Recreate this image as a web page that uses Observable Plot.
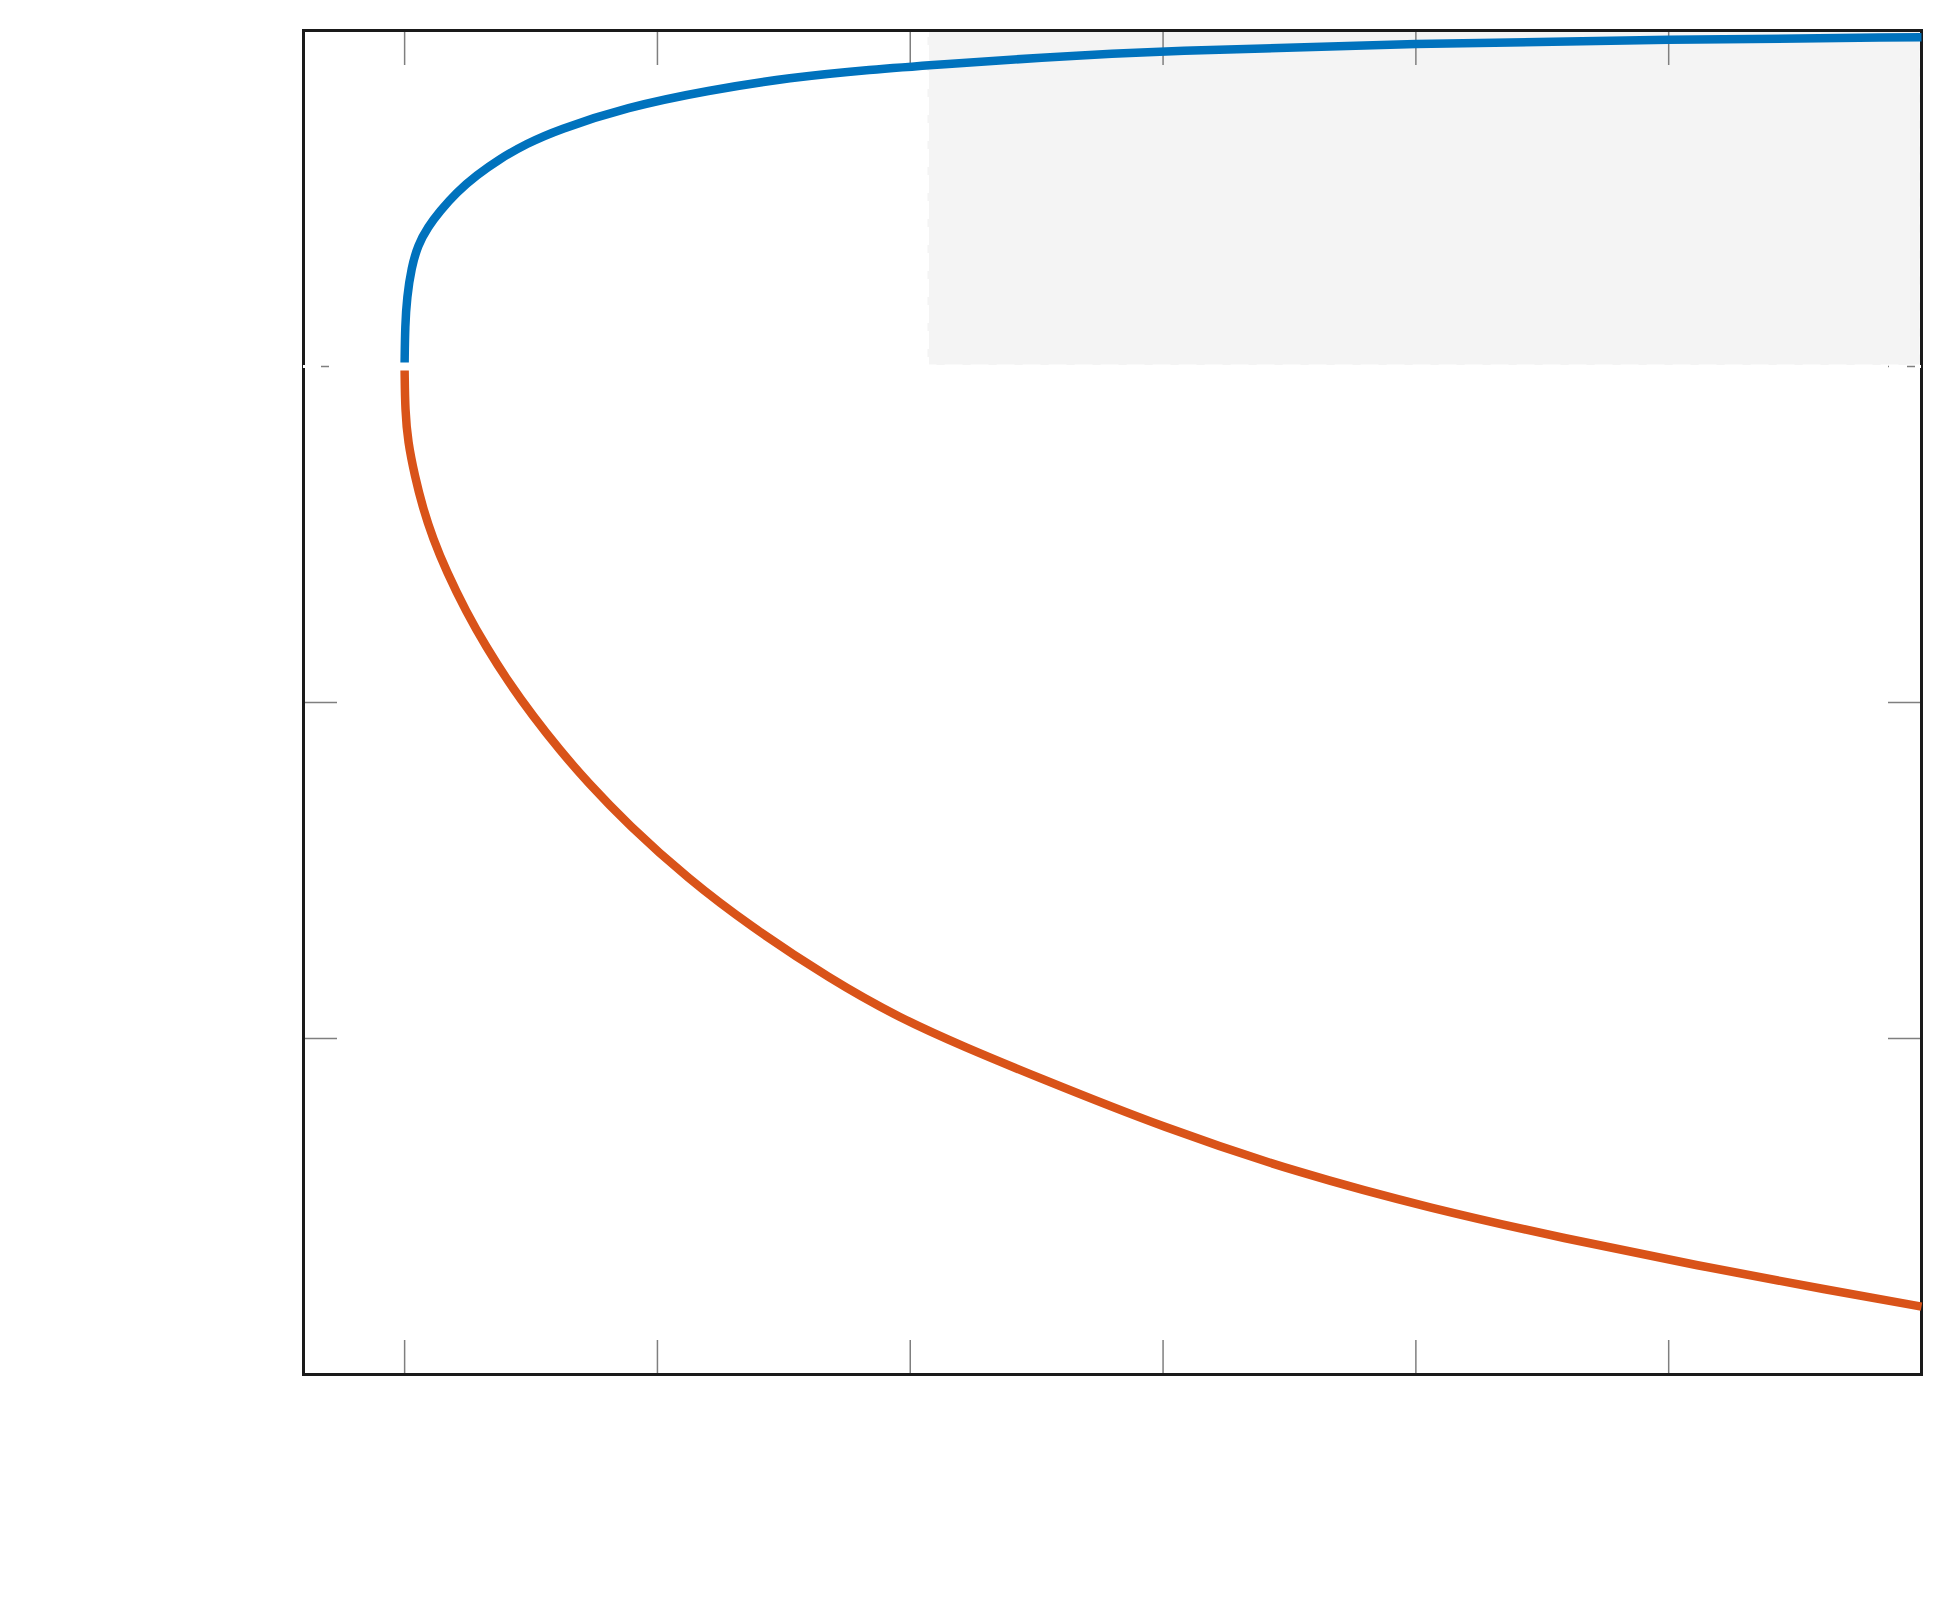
<!DOCTYPE html>
<html>
<head>
<meta charset="utf-8">
<script src="https://cdn.jsdelivr.net/npm/d3@7"></script>
<script src="https://cdn.jsdelivr.net/npm/@observablehq/plot@0.6"></script>
<style>
  html, body { margin: 0; padding: 0; background: #fff; }
  #chart svg { display: block; }
</style>
</head>
<body>
<div id="chart"></div>
<script>
// Axis settings
const xDomain = [-0.4, 6];
const yDomain = [-3, 1];
const xTicks = [0, 1, 2, 3, 4, 5, 6];
const yTicks = [-3, -2, -1, 0, 1];

// Upper branch (blue)
const blueX = [0, 0.002, 0.009, 0.027, 0.053, 0.092, 0.139, 0.205, 0.284, 0.376, 0.482, 0.600, 0.879, 1.201, 1.524, 1.846, 2.117, 2.5, 3.0, 4.0, 5.0, 6.0];
const blueY = [0.012, 0.122, 0.205, 0.295, 0.362, 0.415, 0.462, 0.518, 0.569, 0.618, 0.663, 0.703, 0.772, 0.822, 0.860, 0.884, 0.899, 0.919, 0.940, 0.961, 0.973, 0.980];

// Lower branch (orange)
const orangeX = [0, 0.002, 0.013, 0.040, 0.072, 0.112, 0.165, 0.244, 0.323, 0.410, 0.508, 0.614, 0.722, 0.883, 1.123, 1.364, 1.685, 1.96, 2.22, 2.486, 3.01, 3.535, 4.06, 4.587, 5.114, 5.64, 6];
const orangeY = [-0.012, -0.131, -0.225, -0.325, -0.421, -0.512, -0.609, -0.731, -0.835, -0.938, -1.041, -1.142, -1.236, -1.363, -1.526, -1.664, -1.824, -1.940, -2.027, -2.110, -2.268, -2.400, -2.506, -2.595, -2.676, -2.750, -2.798];

// Shaded region
const shadeX1 = [2.07];
const shadeX2 = [6];
const shadeY1 = [0];
const shadeY2 = [1];

// Horizontal reference line
const refY = [0];

const blue = blueX.map((x, i) => ({x, y: blueY[i]}));
const orange = orangeX.map((x, i) => ({x, y: orangeY[i]}));
const shade = shadeX1.map((x1, i) => ({x1, x2: shadeX2[i], y1: shadeY1[i], y2: shadeY2[i]}));

const tickStyle = {stroke: "#7f7f7f", strokeWidth: 1.5, tickSize: -34, tickFormat: () => "", label: null};

const chart = Plot.plot({
  width: 1941,
  height: 1618,
  marginLeft: 303,
  marginRight: 20,
  marginTop: 30,
  marginBottom: 244,
  x: {domain: xDomain},
  y: {domain: yDomain},
  marks: [
    Plot.rect(shade, {x1: "x1", x2: "x2", y1: "y1", y2: "y2", fill: "#f4f4f4", stroke: "#ffffff", strokeWidth: 3, strokeDasharray: "18,8"}),
    Plot.axisX({anchor: "bottom", ticks: xTicks, ...tickStyle}),
    Plot.axisX({anchor: "top", ticks: xTicks, ...tickStyle}),
    Plot.axisY({anchor: "left", ticks: yTicks, ...tickStyle}),
    Plot.axisY({anchor: "right", ticks: yTicks, ...tickStyle}),
    Plot.frame({stroke: "#1a1a1a", strokeWidth: 3}),
    Plot.ruleY(refY, {stroke: "#ffffff", strokeWidth: 3, strokeDasharray: "18,8"}),
    Plot.line(blue, {x: "x", y: "y", stroke: "#0072BD", strokeWidth: 8.5, strokeLinecap: "butt", strokeLinejoin: "round", curve: "basis"}),
    Plot.line(orange, {x: "x", y: "y", stroke: "#D95319", strokeWidth: 8.5, strokeLinecap: "butt", strokeLinejoin: "round", curve: "basis"})
  ]
});
document.getElementById("chart").appendChild(chart);
</script>
</body>
</html>
